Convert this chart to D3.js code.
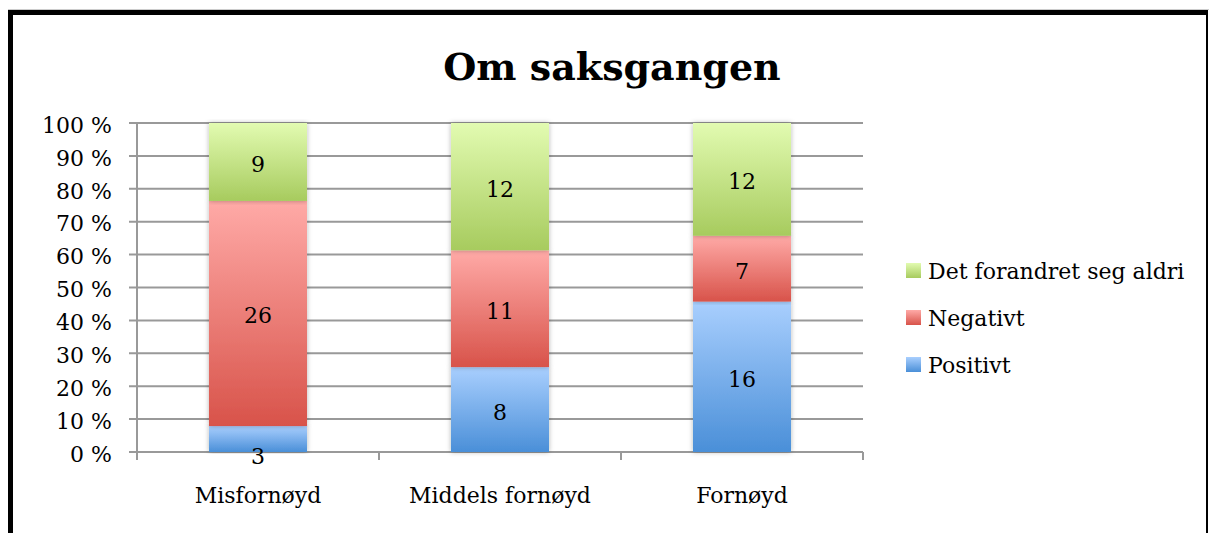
<!DOCTYPE html>
<html><head><meta charset="utf-8">
<script src="https://cdn.jsdelivr.net/npm/d3@7"></script>
<style>body{margin:0;background:#fff}svg{display:block}</style>
</head><body>
<script>
const categories = ["Misfornøyd", "Middels fornøyd", "Fornøyd"];
const seriesNames = ["Positivt", "Negativt", "Det forandret seg aldri"];
const positivt = [3, 8, 16];
const negativt = [26, 11, 7];
const aldri = [9, 12, 12];
const yTicks = [0, 10, 20, 30, 40, 50, 60, 70, 80, 90, 100];
const title = "Om saksgangen";

const W = 1209, H = 533;
const font = "'DejaVu Serif', serif";
const svg = d3.select("body").append("svg").attr("width", W).attr("height", H);
const defs = svg.append("defs");
const grads = [["#a9cffe", "#4a8fd8"], ["#ffaaa7", "#d8534a"], ["#e2fbb1", "#a7cb5e"]];
grads.forEach((g, i) => {
  const lg = defs.append("linearGradient").attr("id", "g" + i).attr("x1", 0).attr("y1", 0).attr("x2", 0).attr("y2", 1);
  lg.append("stop").attr("offset", "0%").attr("stop-color", g[0]);
  lg.append("stop").attr("offset", "100%").attr("stop-color", g[1]);
});
const f = defs.append("filter").attr("id", "sh").attr("x", "-20%").attr("y", "-5%").attr("width", "140%").attr("height", "110%");
f.append("feDropShadow").attr("dx", 0).attr("dy", 0).attr("stdDeviation", 2.5).attr("flood-color", "#000").attr("flood-opacity", 0.3);

// border
svg.append("line").attr("x1", 8).attr("x2", W).attr("y1", 9.5).attr("y2", 9.5).attr("stroke", "#ccc").attr("stroke-width", 1);
svg.append("rect").attr("x", 8).attr("y", 10).attr("width", 1200).attr("height", 5).attr("fill", "#000");
svg.append("rect").attr("x", 8).attr("y", 10).attr("width", 5).attr("height", H - 10).attr("fill", "#000");
svg.append("rect").attr("x", 1206).attr("y", 10).attr("width", 2).attr("height", H - 10).attr("fill", "#000");

const x = d3.scaleBand().domain(categories).range([137, 863]).paddingInner(0.595).paddingOuter(0.2975);
const y = d3.scaleLinear().domain([0, 100]).range([452, 123]);

// gridlines
svg.append("g").selectAll("line").data(yTicks).join("line")
  .attr("x1", 129).attr("x2", 863).attr("y1", d => y(d)).attr("y2", d => y(d))
  .attr("stroke", "#999").attr("stroke-width", 2);

// y axis
const yAxis = d3.axisLeft(y).tickValues(yTicks).tickSize(0).tickPadding(25).tickFormat(d => d + " %");
const ya = svg.append("g").attr("transform", "translate(137,0)").call(yAxis);
ya.select(".domain").remove();
ya.selectAll("text").attr("font-family", font).attr("font-size", 22).attr("fill", "#000").attr("dy", "0.42em");
svg.append("line").attr("x1", 137).attr("x2", 137).attr("y1", 123).attr("y2", 460).attr("stroke", "#999").attr("stroke-width", 2);

// x axis
const xa = svg.append("g").attr("transform", "translate(0,452)");
const xc = d3.scaleBand().domain(categories).range([137, 863]);
const edges = categories.map(c => xc(c)).concat([863]);
xa.selectAll("line.t").data(edges).join("line").attr("class", "t")
  .attr("x1", d => d).attr("x2", d => d).attr("y1", 0).attr("y2", 8).attr("stroke", "#999").attr("stroke-width", 2);
xa.selectAll("text").data(categories).join("text")
  .attr("x", d => xc(d) + xc.bandwidth() / 2).attr("y", 51).attr("text-anchor", "middle")
  .attr("font-family", font).attr("font-size", 22).text(d => d);

// stacked data
const table = categories.map((c, i) => ({cat: c, s0: positivt[i], s1: negativt[i], s2: aldri[i]}));
const stack = d3.stack().keys(["s0", "s1", "s2"]).offset(d3.stackOffsetExpand);
const layers = stack(table);

const bars = svg.append("g");
layers.forEach((layer, li) => {
  bars.append("g").selectAll("rect").data(layer).join("rect")
    .attr("x", d => x(d.data.cat)).attr("width", x.bandwidth())
    .attr("y", d => y(d[1] * 100)).attr("height", d => y(d[0] * 100) - y(d[1] * 100))
    .attr("fill", `url(#g${li})`).attr("filter", "url(#sh)");
});
layers.forEach((layer, li) => {
  svg.append("g").selectAll("text").data(layer).join("text")
    .attr("x", d => x(d.data.cat) + x.bandwidth() / 2)
    .attr("y", d => {
      const top = y(d[1] * 100), bot = y(d[0] * 100);
      return (bot - top) < 30 ? bot + 12 : (top + bot) / 2 + 10;
    })
    .attr("text-anchor", "middle").attr("font-family", font).attr("font-size", 22)
    .text(d => d.data["s" + li]);
});

// title
svg.append("text").attr("x", 612).attr("y", 80).attr("text-anchor", "middle")
  .attr("font-family", font).attr("font-weight", "bold").attr("font-size", 38).text(title);

// legend
const legendOrder = [2, 1, 0];
const lg = svg.append("g");
legendOrder.forEach((si, k) => {
  const yy = 270 + k * 47;
  lg.append("rect").attr("x", 906).attr("y", yy - 7).attr("width", 15).attr("height", 15).attr("fill", `url(#g${si})`);
  lg.append("text").attr("x", 928).attr("y", yy + 9).attr("font-family", font).attr("font-size", 22).text(seriesNames[si]);
});
</script>
</body></html>
